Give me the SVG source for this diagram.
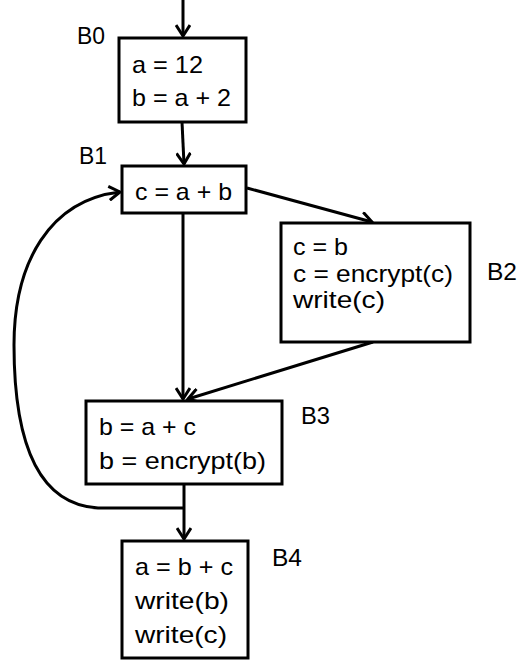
<svg xmlns="http://www.w3.org/2000/svg" width="517" height="660" viewBox="0 0 517 660">
<style>
.box{fill:#fff;stroke:#000;stroke-width:3}
.edge{fill:none;stroke:#000;stroke-width:3}
text{font-family:"Liberation Sans",Arial,sans-serif;font-size:24px;fill:#000}
</style>
<defs>
<marker id="arr" markerWidth="16" markerHeight="16" refX="13" refY="8" orient="auto" markerUnits="userSpaceOnUse">
<path d="M2,1 L13,8 L2,15" fill="none" stroke="#000" stroke-width="3"/>
</marker>
</defs>
<rect width="517" height="660" fill="#fff"/>
<g id="connectors">
<path class="edge" d="M183,0 L183,36" marker-end="url(#arr)"/>
<path class="edge" d="M182,122 L184,164" marker-end="url(#arr)"/>
<path class="edge" d="M247,188 L372,222" marker-end="url(#arr)"/>
<path class="edge" d="M183,213 L183,399" marker-end="url(#arr)"/>
<path class="edge" d="M373,342 L188,399" marker-end="url(#arr)"/>
<path class="edge" d="M184,484 L184,539" marker-end="url(#arr)"/>
<path class="edge" d="M184,508 L98,508 C30,504 14,425 14,345 C14,262 50,200 120,192" marker-end="url(#arr)"/>
</g>
<g id="B0">
<rect class="box" x="119" y="38" width="127" height="84"/>
<text x="132" y="73" textLength="71" lengthAdjust="spacingAndGlyphs">a = 12</text>
<text x="132" y="106" textLength="99" lengthAdjust="spacingAndGlyphs">b = a + 2</text>
<text x="77" y="44" textLength="28" lengthAdjust="spacingAndGlyphs">B0</text>
</g>
<g id="B1">
<rect class="box" x="122" y="166" width="124" height="47"/>
<text x="135" y="200" textLength="97" lengthAdjust="spacingAndGlyphs">c = a + b</text>
<text x="79" y="164" textLength="28" lengthAdjust="spacingAndGlyphs">B1</text>
</g>
<g id="B2">
<rect class="box" x="281" y="223" width="189" height="119"/>
<text x="293" y="255" textLength="55" lengthAdjust="spacingAndGlyphs">c = b</text>
<text x="293" y="282" textLength="160" lengthAdjust="spacingAndGlyphs">c = encrypt(c)</text>
<text x="293" y="308" textLength="92" lengthAdjust="spacingAndGlyphs">write(c)</text>
<text x="487" y="280" textLength="30" lengthAdjust="spacingAndGlyphs">B2</text>
</g>
<g id="B3">
<rect class="box" x="86" y="401" width="196" height="83"/>
<text x="99" y="435" textLength="97" lengthAdjust="spacingAndGlyphs">b = a + c</text>
<text x="99" y="469" textLength="167" lengthAdjust="spacingAndGlyphs">b = encrypt(b)</text>
<text x="301" y="424" textLength="29" lengthAdjust="spacingAndGlyphs">B3</text>
</g>
<g id="B4">
<rect class="box" x="122" y="541" width="126" height="117"/>
<text x="135" y="575" textLength="98" lengthAdjust="spacingAndGlyphs">a = b + c</text>
<text x="135" y="609" textLength="94" lengthAdjust="spacingAndGlyphs">write(b)</text>
<text x="135" y="643" textLength="92" lengthAdjust="spacingAndGlyphs">write(c)</text>
<text x="272" y="566" textLength="30" lengthAdjust="spacingAndGlyphs">B4</text>
</g>
</svg>
